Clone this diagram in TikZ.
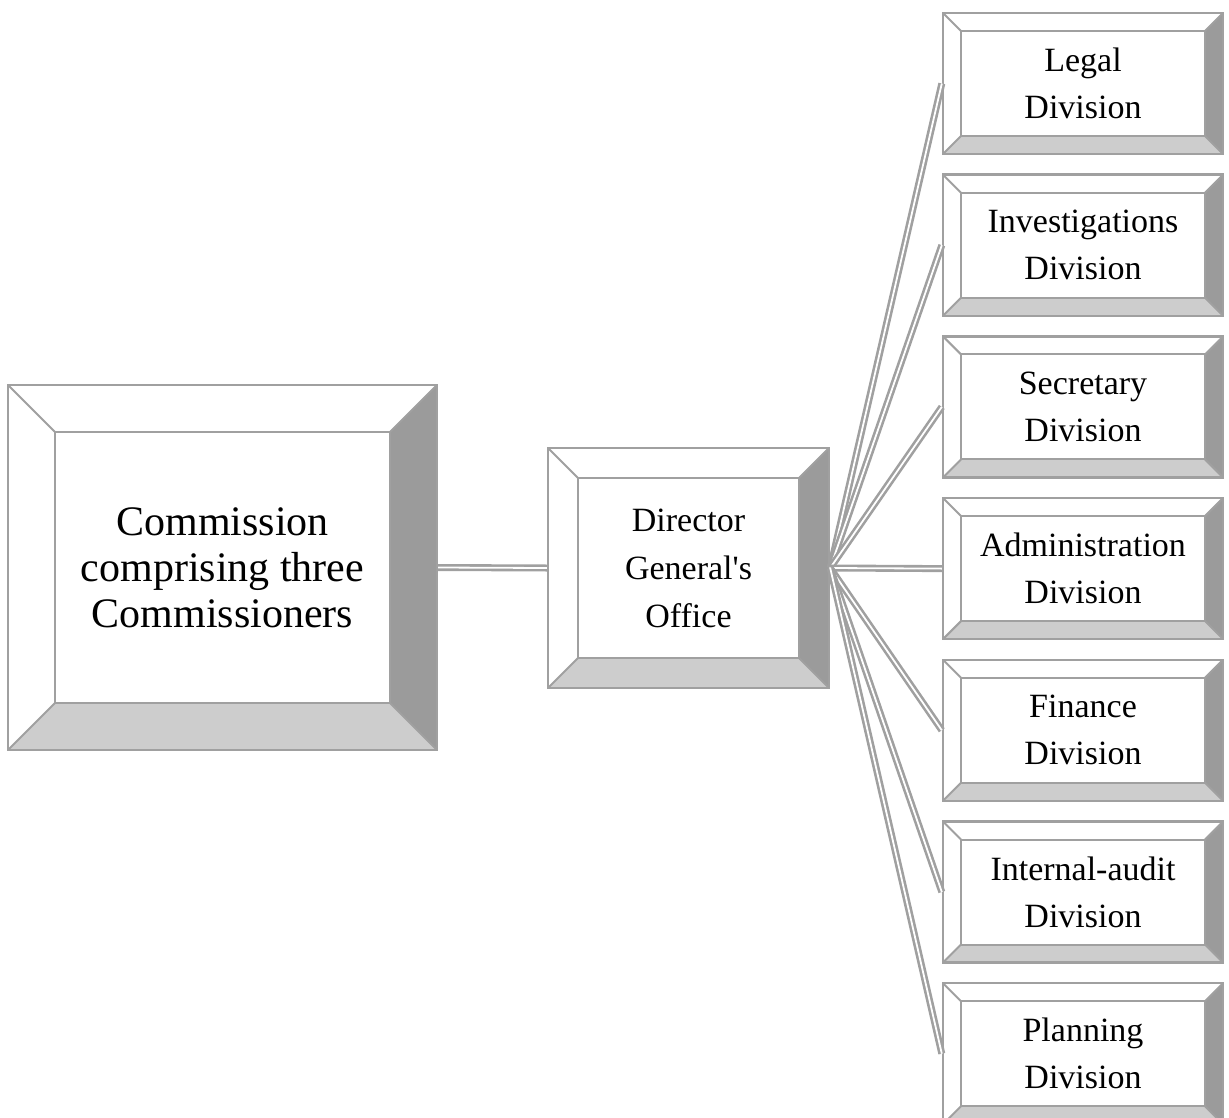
\documentclass[tikz,border=0pt]{standalone}
\usepackage{fontspec}
\setmainfont{Liberation Serif}
\definecolor{rimgray}{HTML}{A0A0A0}
\definecolor{darkface}{HTML}{9B9B9B}
\definecolor{lightface}{HTML}{CDCDCD}
\tikzset{
  bevelbox/.style={rectangle, draw=rimgray, line width=1.2pt, fill=white,
    align=center, inner sep=0pt,
    path picture={
      \fill[darkface] (path picture bounding box.north east)
        -- (path picture bounding box.south east)
        -- ([xshift=-#1,yshift=#1]path picture bounding box.south east)
        -- ([xshift=-#1,yshift=-#1]path picture bounding box.north east) -- cycle;
      \fill[lightface] (path picture bounding box.south west)
        -- (path picture bounding box.south east)
        -- ([xshift=-#1,yshift=#1]path picture bounding box.south east)
        -- ([xshift=#1,yshift=#1]path picture bounding box.south west) -- cycle;
      \draw[rimgray, line width=1pt]
        ([xshift=#1,yshift=-#1]path picture bounding box.north west)
        rectangle ([xshift=-#1,yshift=#1]path picture bounding box.south east);
      \draw[rimgray, line width=1pt]
        (path picture bounding box.north west) -- ([xshift=#1,yshift=-#1]path picture bounding box.north west)
        (path picture bounding box.north east) -- ([xshift=-#1,yshift=-#1]path picture bounding box.north east)
        (path picture bounding box.south west) -- ([xshift=#1,yshift=#1]path picture bounding box.south west)
        (path picture bounding box.south east) -- ([xshift=-#1,yshift=#1]path picture bounding box.south east);
    }},
  divbox/.style={bevelbox=9pt, minimum width=140pt, minimum height=70.5pt,
    font=\fontsize{17}{23.5}\selectfont},
  link/.style={draw=rimgray, line width=1.3pt, double=white, double distance=0.9pt}
}
\begin{document}
\begin{tikzpicture}[x=0.5pt, y=-0.5pt]
  \path[use as bounding box, clip] (0,0) rectangle (1229,1117);

  \node[bevelbox=23.5pt, minimum width=214.5pt, minimum height=182.5pt,
        font=\fontsize{21}{23}\selectfont] (comm) at (222.5,567.5)
        {Commission\\comprising three\\Commissioners};
  \node[bevelbox=15pt, minimum width=140.5pt, minimum height=120pt,
        font=\fontsize{17}{24}\selectfont] (dg) at (688.5,568)
        {Director\\General\textquotesingle s\\Office};

  \draw[link] (comm.east) -- (dg.west);

  % divisions
  \foreach \name/\lbl [count=\i from 0] in {legal/Legal, inv/Investigations,
      sec/Secretary, adm/Administration, fin/Finance, audit/Internal-audit,
      plan/Planning} {
    \node[divbox] (\name) at (1083, 83.5+161.7*\i) {\lbl\\Division};
    \draw[link] (dg.east) -- (\name.west);
  }
\end{tikzpicture}
\end{document}
